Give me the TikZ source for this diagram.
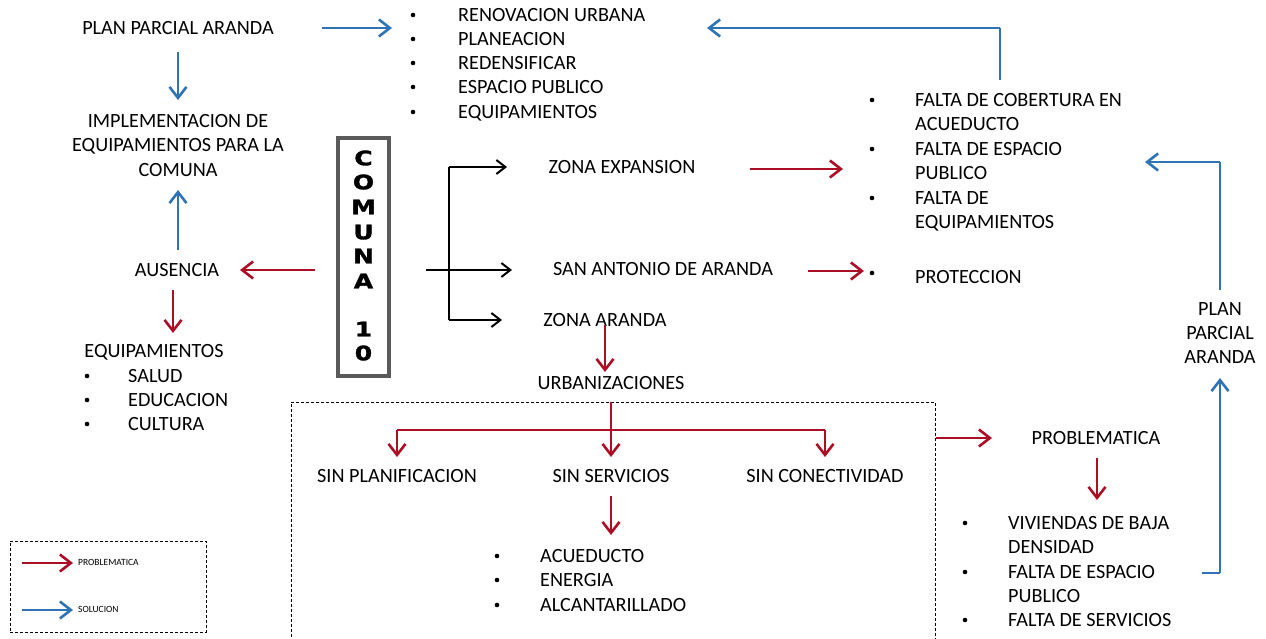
\documentclass[tikz,border=0pt]{standalone}
\usepackage{fontspec}
\setmainfont{Carlito}
\newfontfamily\heavyfont{DejaVu Sans}[FakeStretch=1.25, BoldFeatures={FakeBold=1.5}]
\usetikzlibrary{arrows.meta,calc}
\definecolor{pred}{HTML}{AC0F25}
\definecolor{sblue}{HTML}{2E74B5}
\definecolor{boxgray}{HTML}{5A5A5A}
\tikzset{
  txt/.style={inner sep=0pt, font=\fontsize{20.2}{24}\selectfont, text height=13pt, text depth=0pt},
  lt/.style={txt, anchor=west},
  bul/.style={circle, fill=black, inner sep=0pt, minimum size=4.6pt},
  small/.style={inner sep=0pt, anchor=west, font=\fontsize{9.5}{11}\selectfont, text height=6pt, text depth=0pt},
  letter/.style={inner sep=0pt, font=\heavyfont\bfseries\fontsize{20}{22}\selectfont, text height=14.6pt, text depth=0pt},
  parr/.style={draw=pred, line width=2.6pt, -{Straight Barb[length=11pt,width=17pt]}},
  sarr/.style={draw=sblue, line width=2.6pt, -{Straight Barb[length=11pt,width=17pt]}},
  karr/.style={draw=black, line width=2pt, -{Straight Barb[length=9pt,width=14pt]}},
  pline/.style={draw=pred, line width=2.6pt},
  sline/.style={draw=sblue, line width=2.6pt},
  kline/.style={draw=black, line width=2pt},
  dbox/.style={draw=black, densely dashed, line width=0.6pt},
}
\begin{document}
\begin{tikzpicture}[x=1pt,y=-1pt]
\useasboundingbox (0,0) rectangle (1266,639);
% ---------- top-left
\node[txt] (plan) at (178,28) {PLAN PARCIAL ARANDA};
\node[txt] (impl1) at (178,121) {IMPLEMENTACION DE};
\node[txt] (impl2) at (178,145) {EQUIPAMIENTOS PARA LA};
\node[txt] (impl3) at (178,170) {COMUNA};
\node[txt] (aus) at (177,270) {AUSENCIA};
\node[txt] (equip) at (154,351) {EQUIPAMIENTOS};
\foreach \n/\t/\y in {b1/SALUD/376,b2/EDUCACION/400,b3/CULTURA/424}{
  \node[bul] (\n d) at (87,\y) {};
  \node[lt] (\n) at (128,\y) {\t};
}
% ---------- top list
\foreach \n/\t/\y in {r1/RENOVACION URBANA/15,r2/PLANEACION/39,r3/REDENSIFICAR/63,r4/ESPACIO PUBLICO/87,r5/EQUIPAMIENTOS/112}{
  \node[bul] (\n d) at (413,\y) {};
  \node[lt] (\n) at (458,\y) {\t};
}
% ---------- comuna box
\node[draw=boxgray, line width=3.5pt, minimum width=51pt, minimum height=238pt, inner sep=0pt] (comuna) at (363.5,257) {};
\foreach \l/\y [count=\i] in {C/158,O/182,M/207,U/232,N/256,A/281,1/329,0/353}{
  \node[letter] (c\i) at (363.5,\y) {\l};
}
% ---------- zones
\node[txt] (zexp) at (622,167) {ZONA EXPANSION};
\node[txt] (san) at (663,269) {SAN ANTONIO DE ARANDA};
\node[txt] (zar) at (605,320) {ZONA ARANDA};
\node[txt] (urb) at (611,383) {URBANIZACIONES};
% ---------- falta list
\foreach \n/\t/\y in {f1/FALTA DE COBERTURA EN/100,f2/ACUEDUCTO/124,f3/FALTA DE ESPACIO/149,f4/PUBLICO/173,f5/FALTA DE/198,f6/EQUIPAMIENTOS/222}{
  \node[lt] (\n) at (915,\y) {\t};
}
\foreach \n/\y in {f1d/100,f3d/149,f5d/198,protd/273}{
  \node[bul] (\n) at (872,\y) {};
}
\node[lt] (prot) at (915,277) {PROTECCION};
% ---------- plan parcial right
\node[txt] (pp1) at (1220,309) {PLAN};
\node[txt] (pp2) at (1220,333) {PARCIAL};
\node[txt] (pp3) at (1220,357) {ARANDA};
% ---------- bottom box
\node[dbox, minimum width=644pt, minimum height=260pt, inner sep=0pt] (ubox) at (613,532) {};
\node[txt] (sp) at (397,476) {SIN PLANIFICACION};
\node[txt] (ss) at (611,476) {SIN SERVICIOS};
\node[txt] (sc) at (825,476) {SIN CONECTIVIDAD};
\foreach \n/\t/\y in {a1/ACUEDUCTO/556,a2/ENERGIA/580,a3/ALCANTARILLADO/605}{
  \node[bul] (\n d) at (497,\y) {};
  \node[lt] (\n) at (540,\y) {\t};
}
\node[txt] (prob) at (1096,438) {PROBLEMATICA};
\foreach \n/\t/\y in {v1/VIVIENDAS DE BAJA/523,v2/DENSIDAD/547,v3/FALTA DE ESPACIO/572,v4/PUBLICO/596,v5/FALTA DE SERVICIOS/620}{
  \node[lt] (\n) at (1008,\y) {\t};
}
\foreach \n/\y in {v1d/523,v3d/572,v5d/620}{
  \node[bul] (\n) at (965,\y) {};
}
% ---------- legend
\node[dbox, minimum width=196pt, minimum height=91pt, inner sep=0pt] (legend) at (108,586.5) {};
\node[small] (lp) at (78,562) {PROBLEMATICA};
\node[small] (ls) at (78,609) {SOLUCION};
\coordinate (lpa) at (22,563);
\coordinate (lpb) at (73,563);
\coordinate (lsa) at (22,610);
\coordinate (lsb) at (73,610);
\draw[parr] (lpa) -- (lpb);
\draw[sarr] (lsa) -- (lsb);

% ---------- connector end points
\coordinate (planR) at (322,28);
\coordinate (listL) at (392,28);
\coordinate (planB) at (178,52);
\coordinate (implT) at (178,100);
\coordinate (ausT) at (178,250);
\coordinate (implB) at (178,190);
\coordinate (comL) at (315,270);
\coordinate (ausR) at (240,270);
\coordinate (ausB) at (173,290);
\coordinate (equipT) at (173,333);
\coordinate (kstart) at (426,270);
\coordinate (kfork) at (449,270);
\coordinate (sanL) at (512,270);
\coordinate (zexpL) at (507,167);
\coordinate (zarL) at (502,320);
\coordinate (zexpR) at (750,169);
\coordinate (faltaL) at (843,169);
\coordinate (sanR) at (808,271);
\coordinate (protL) at (864,271);
\coordinate (zarB) at (605,325);
\coordinate (urbT) at (605,372);
\coordinate (urbB) at (611,402);
\coordinate (bar) at (611,430);
\coordinate (ssB) at (611,496);
\coordinate (acuT) at (611,535);
\coordinate (boxR) at (936,438);
\coordinate (probL) at (992,438);
\coordinate (probB) at (1097,458);
\coordinate (vivT) at (1097,500);
\coordinate (vR) at (1202,573);
\coordinate (rb) at (1220,573);
\coordinate (ppB) at (1220,378);
\coordinate (ppT) at (1220,290);
\coordinate (rt) at (1220,162);
\coordinate (faltaR) at (1145,162);
\coordinate (faltaT) at (1000,80);
\coordinate (tt) at (1000,28);
\coordinate (tl) at (707,28);
% ---------- connectors
\draw[sarr] (planR) -- (listL);
\draw[sarr] (planB) -- (implT);
\draw[sarr] (ausT) -- (implB);
\draw[parr] (comL) -- (ausR);
\draw[parr] (ausB) -- (equipT);
\draw[karr] (kstart) -- (sanL);
\draw[kline] (kfork |- zexpL) -- (kfork |- zarL);
\draw[karr] (kfork |- zexpL) -- (zexpL);
\draw[karr] (kfork |- zarL) -- (zarL);
\draw[parr] (zexpR) -- (faltaL);
\draw[parr] (sanR) -- (protL);
\draw[parr] (zarB) -- (urbT);
\draw[pline] (urbB) -- (bar);
\draw[pline] (sp |- bar) -- (sc |- bar);
\draw[parr] (sp |- bar) -- ++(0,27);
\draw[parr] (bar) -- ++(0,27);
\draw[parr] (sc |- bar) -- ++(0,27);
\draw[parr] (ssB) -- (acuT);
\draw[parr] (boxR) -- (probL);
\draw[parr] (probB) -- (vivT);
\draw[sline] (vR) -- (rb);
\draw[sarr] (rb) -- (ppB);
\draw[sline] (ppT) -- (rt);
\draw[sarr] (rt) -- (faltaR);
\draw[sline] (faltaT) -- (tt);
\draw[sarr] (tt) -- (tl);
\end{tikzpicture}
\end{document}
